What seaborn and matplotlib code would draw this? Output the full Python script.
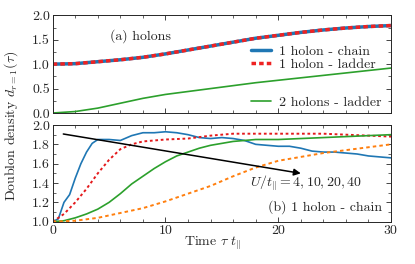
import numpy as np
import pandas as pd
import matplotlib
matplotlib.use("Agg")
import matplotlib.pyplot as plt
from matplotlib.lines import Line2D
from matplotlib.ticker import MultipleLocator
import seaborn as sns

# (a) holons
t_a = [0, 2, 4, 6, 8, 10, 12, 14, 16, 18, 20, 22, 24, 26, 28, 30]
chain_1h = [1.0, 1.01, 1.05, 1.09, 1.14, 1.21, 1.29, 1.37, 1.45, 1.53, 1.59, 1.65, 1.70, 1.74, 1.77, 1.79]
ladder_1h = chain_1h
ladder_2h = [0.0, 0.03, 0.10, 0.20, 0.30, 0.38, 0.44, 0.50, 0.56, 0.62, 0.67, 0.72, 0.77, 0.82, 0.87, 0.92]

# (b) 1 holon - chain, U/t = 4, 10, 20, 40
t_u4 = [0, 0.5, 1, 1.5, 2, 2.5, 3, 3.5, 4, 5, 6, 7, 8, 9, 10, 11, 12, 13, 14, 15, 16, 17, 18, 19, 20,
        21, 22, 23, 24, 25, 26, 27, 28, 29, 30]
u4 = [1.0, 1.03, 1.2, 1.28, 1.45, 1.6, 1.72, 1.81, 1.85, 1.85, 1.84, 1.89, 1.92, 1.92, 1.93, 1.92, 1.90,
      1.87, 1.86, 1.87, 1.86, 1.84, 1.80, 1.79, 1.78, 1.78, 1.76, 1.73, 1.72, 1.72, 1.71, 1.70, 1.68, 1.67, 1.66]
t_u10 = [0, 1, 2, 3, 4, 5, 6, 7, 8, 9, 10, 12, 14, 16, 18, 20, 22, 24, 26, 28, 30]
u10 = [1.0, 1.08, 1.2, 1.34, 1.5, 1.64, 1.75, 1.8, 1.83, 1.84, 1.85, 1.86, 1.89, 1.91, 1.91, 1.91, 1.91,
       1.91, 1.90, 1.89, 1.88]
t_u20 = [0, 1, 2, 3, 4, 5, 6, 7, 8, 9, 10, 11, 12, 13, 14, 15, 16, 17, 18, 20, 22, 24, 26, 28, 30]
u20 = [1.0, 1.01, 1.04, 1.08, 1.13, 1.2, 1.29, 1.39, 1.47, 1.55, 1.62, 1.68, 1.72, 1.76, 1.79, 1.81, 1.83,
       1.84, 1.85, 1.85, 1.86, 1.87, 1.88, 1.89, 1.90]
t_u40 = [0, 2, 4, 6, 8, 10, 12, 14, 16, 18, 20, 22, 24, 26, 28, 30]
u40 = [1.0, 1.01, 1.04, 1.09, 1.14, 1.21, 1.29, 1.37, 1.47, 1.56, 1.63, 1.67, 1.71, 1.74, 1.77, 1.80]

sns.set_style("ticks")
plt.rcParams['font.family'] = 'cmr10'
plt.rcParams['mathtext.fontset'] = 'cm'
plt.rcParams['axes.formatter.use_mathtext'] = True
plt.rcParams['axes.unicode_minus'] = False
plt.rcParams['font.size'] = 10

fig = plt.figure(figsize=(4.15, 2.64), dpi=100)
W, H = 415, 264
ax1 = fig.add_axes([52.7 / W, 1 - 113 / H, (391 - 52.7) / W, (113 - 15.3) / H])
ax2 = fig.add_axes([52.7 / W, 1 - 221.7 / H, (391 - 52.7) / W, (221.7 - 125) / H])

blue = '#1f77b4'
red = '#ee2222'
green = '#2ca02c'
orange = '#ff7f0e'

sns.lineplot(x=t_a, y=chain_1h, ax=ax1, color=blue, lw=2.5, label='1 holon - chain')
sns.lineplot(x=t_a, y=ladder_1h, ax=ax1, color=red, lw=2.5, ls=(0, (1.3, 0.9)), label='1 holon - ladder')
sns.lineplot(x=t_a, y=ladder_2h, ax=ax1, color=green, lw=1.2, label='2 holons - ladder')

h, l = ax1.get_legend_handles_labels()
blank = Line2D([], [], alpha=0)
ax1.legend([h[0], h[1], blank, blank, h[2]], [l[0], l[1], ' ', ' ', l[2]],
           loc='lower right', bbox_to_anchor=(0.985, 0.0), frameon=False,
           handlelength=1.45, handletextpad=0.6,
           labelspacing=0.0, borderaxespad=0.2, borderpad=0.1, fontsize=10)
ax1.text(0.17, 0.79, '(a) holons', transform=ax1.transAxes, ha='left', va='center')

sns.lineplot(x=t_u4, y=u4, ax=ax2, color=blue, lw=1.2)
sns.lineplot(x=t_u10, y=u10, ax=ax2, color='#e41a1c', lw=1.4, ls=(0, (1.4, 1.4)))
sns.lineplot(x=t_u20, y=u20, ax=ax2, color=green, lw=1.2)
sns.lineplot(x=t_u40, y=u40, ax=ax2, color=orange, lw=1.4, ls=(0, (1.8, 1.6)))

ax2.annotate('', xy=(22.0, 1.50), xytext=(0.94, 1.907),
             arrowprops=dict(arrowstyle='-|>', color='black', lw=1.1, mutation_scale=10,
                             shrinkA=0, shrinkB=0))
ax2.text(17.5, 1.40, r'$U/t_{\|} = 4, 10, 20, 40$', ha='left', va='center')
ax2.text(29.2, 1.15, '(b) 1 holon - chain', ha='right', va='center')

for ax in (ax1, ax2):
    ax.set_xlim(0, 30)
    ax.xaxis.set_major_locator(MultipleLocator(10))
    ax.xaxis.set_minor_locator(MultipleLocator(2))
    ax.tick_params(which='both', direction='in', top=True, right=True, labelsize=10, pad=2)
    ax.tick_params(which='major', length=3.5, width=0.6)
    ax.tick_params(which='minor', length=2, width=0.5)
    for s in ax.spines.values():
        s.set_linewidth(0.7)

ax1.set_ylim(0, 2)
ax1.yaxis.set_major_locator(MultipleLocator(0.5))
ax1.yaxis.set_minor_locator(MultipleLocator(0.25))
ax1.set_xticklabels([])
ax1.yaxis.set_major_formatter(plt.FormatStrFormatter('%.1f'))

ax2.set_ylim(1, 2)
ax2.yaxis.set_major_locator(MultipleLocator(0.2))
ax2.yaxis.set_minor_locator(MultipleLocator(0.1))
ax2.yaxis.set_major_formatter(plt.FormatStrFormatter('%.1f'))

fig.text(11 / W, 0.523, r'Doublon density $d_{r=1}(\tau)$', rotation=90, ha='center', va='center')
fig.text(212 / W, 1 - 243 / H, r'Time $\tau\ t_{\|}$', ha='center', va='center')

fig.savefig('out.png', dpi=100)
